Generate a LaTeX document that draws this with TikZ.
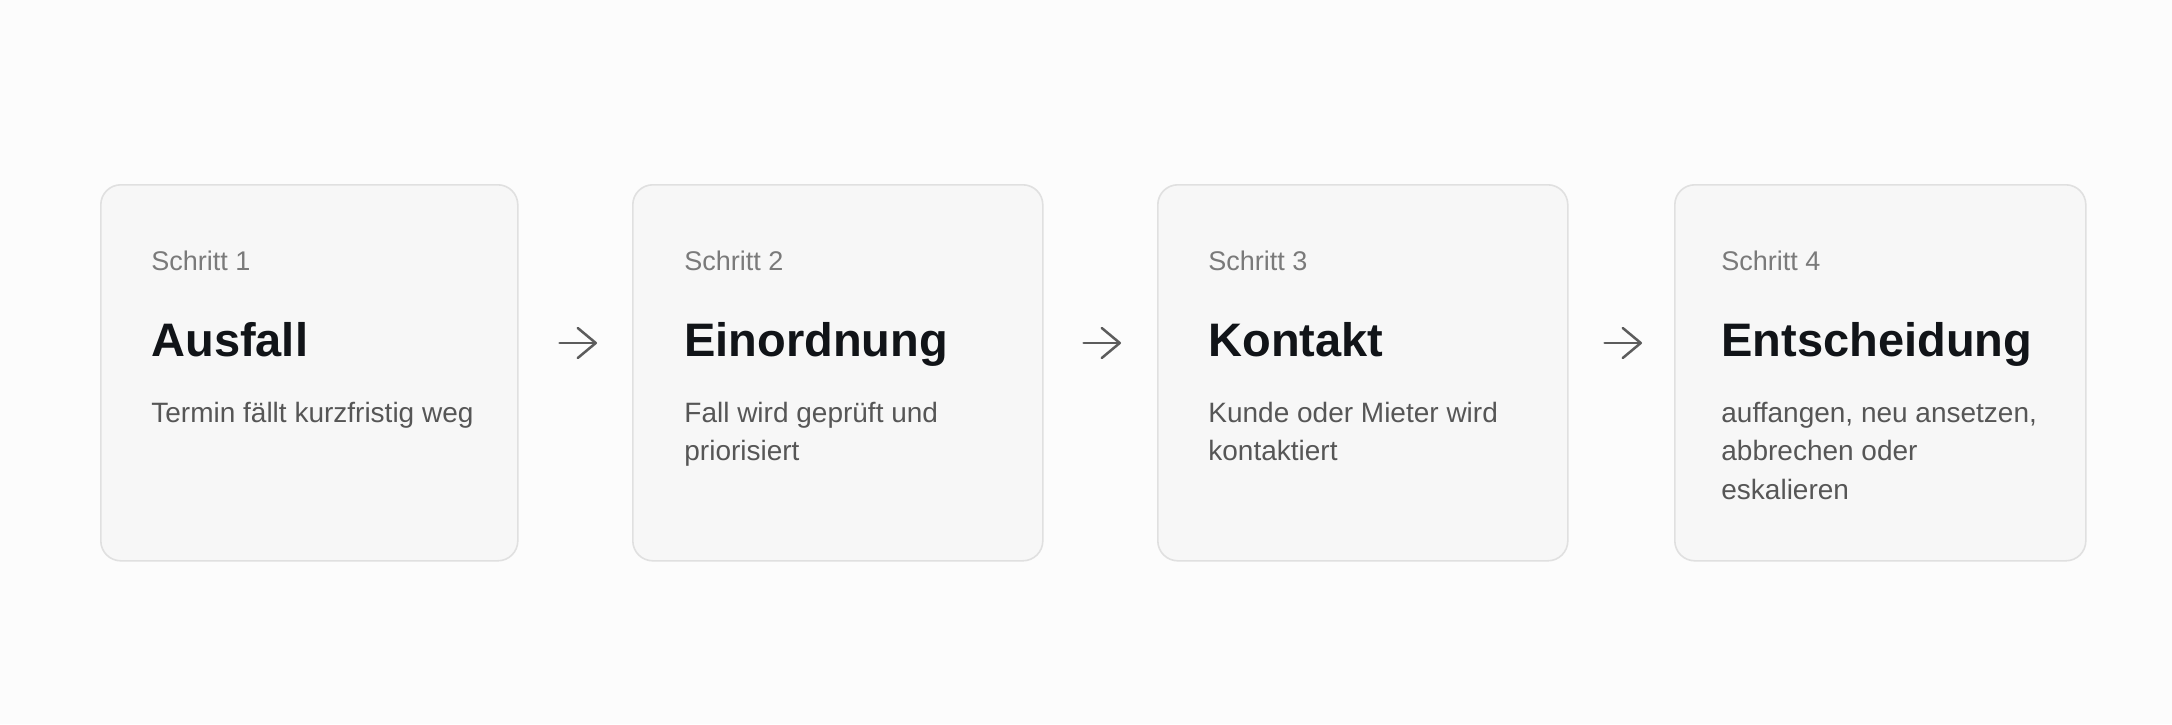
\documentclass[tikz,border=0pt]{standalone}
\usepackage{fontspec}
\setmainfont{Liberation Sans}
\usetikzlibrary{arrows.meta}
\definecolor{bg}{HTML}{FCFCFC}
\definecolor{boxfill}{HTML}{F7F7F7}
\definecolor{boxline}{HTML}{E0E0E0}
\definecolor{titlec}{HTML}{111418}
\definecolor{labelc}{HTML}{7A7A7A}
\definecolor{descc}{HTML}{565656}
\definecolor{arrc}{HTML}{5C5C5C}
\newcommand{\desctext}[1]{\parbox[t]{200pt}{#1}}
\begin{document}
\begin{tikzpicture}[x=0.5pt,y=-0.5pt,
 stepbox/.style={draw=boxline, fill=boxfill, line width=0.8pt, rounded corners=10pt, anchor=north west, minimum height=188pt, inner sep=0pt},
 steplabel/.style={anchor=base west, inner sep=0pt, text=labelc, font=\fontsize{13.5}{16}\selectfont},
 steptitle/.style={anchor=base west, inner sep=0pt, text=titlec, font=\fontsize{23.5}{28}\selectfont\bfseries},
 stepdesc/.style={anchor=base west, inner sep=0pt, text=descc, font=\fontsize{14}{19.25}\selectfont},
 flow/.style={draw=arrc, line width=1.25pt, line cap=round, -{Straight Barb[length=9pt,width=15pt,line cap=round,line join=round]}}
]
\path[fill=bg,use as bounding box] (0,0) rectangle (2172,724);

\node[stepbox, minimum width=208.5pt] (b1) at (100,184) {};
\node[stepbox, minimum width=205pt] (b2) at (632,184) {};
\node[stepbox, minimum width=205pt] (b3) at (1157,184) {};
\node[stepbox, minimum width=205.5pt] (b4) at (1674,184) {};

\node[steplabel] (l1) at (151,270) {Schritt 1};
\node[steptitle] (t1) at (151,356) {Ausfall};
\node[stepdesc] (d1) at (151,422) {\desctext{Termin fällt kurzfristig weg}};

\node[steplabel] (l2) at (684,270) {Schritt 2};
\node[steptitle] (t2) at (684,356) {Einordnung};
\node[stepdesc] (d2) at (684,422) {\desctext{Fall wird geprüft und\\priorisiert}};

\node[steplabel] (l3) at (1208,270) {Schritt 3};
\node[steptitle] (t3) at (1208,356) {Kontakt};
\node[stepdesc] (d3) at (1208,422) {\desctext{Kunde oder Mieter wird\\kontaktiert}};

\node[steplabel] (l4) at (1721,270) {Schritt 4};
\node[steptitle] (t4) at (1721,356) {Entscheidung};
\node[stepdesc] (d4) at (1721,422) {\desctext{auffangen, neu ansetzen,\\abbrechen oder\\eskalieren}};

\draw[flow] ([shift={(41,159)}]b1.north east) -- ([shift={(-35,159)}]b2.north west);
\draw[flow] ([shift={(40,159)}]b2.north east) -- ([shift={(-36,159)}]b3.north west);
\draw[flow] ([shift={(36,159)}]b3.north east) -- ([shift={(-32,159)}]b4.north west);
\end{tikzpicture}
\end{document}
